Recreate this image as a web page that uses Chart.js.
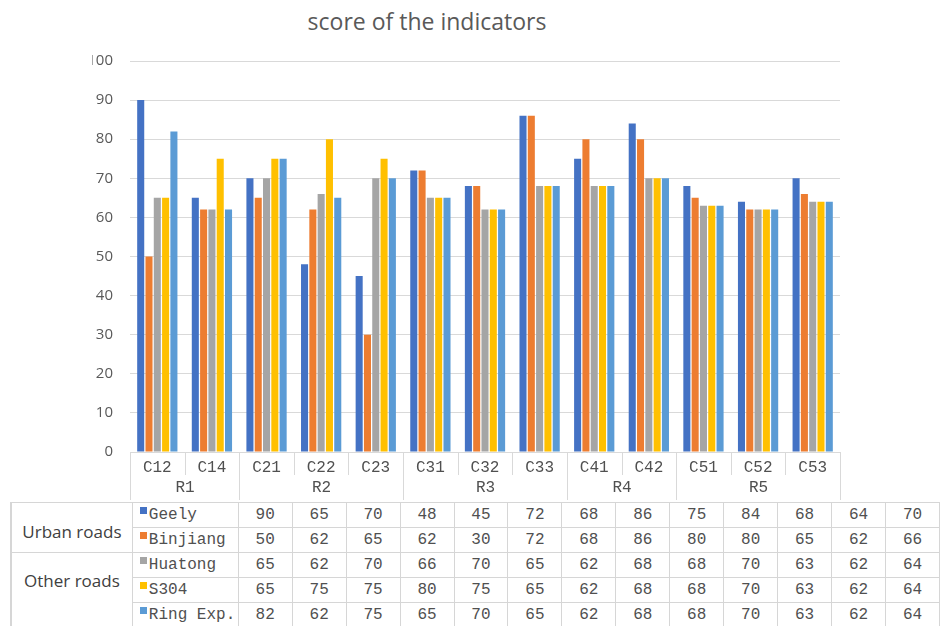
<!DOCTYPE html>
<html>
<head>
<meta charset="utf-8">
<script src="https://cdn.jsdelivr.net/npm/chart.js@4/dist/chart.umd.min.js"></script>
<style>
  html, body { margin: 0; padding: 0; background: #fff; }
  body { width: 940px; height: 626px; position: relative; overflow: hidden; }
  #title {
    position: absolute; left: 177px; top: 6px; width: 500px; text-align: center;
    font-family: "Open Sans", sans-serif; font-size: 23px; line-height: 30px; color: #595959;
  }
  #chart { position: absolute; left: 92px; top: 0; }
  #dataTable {
    position: absolute; left: 10px; top: 502px;
    border-collapse: collapse; table-layout: fixed;
    font-family: "Liberation Mono", monospace; font-size: 16px; color: #505050;
  }
  #dataTable td { border: 1px solid #d6d6d6; padding: 0; height: 24px; white-space: nowrap; overflow: hidden; }
  #dataTable td.val { text-align: center; }
  #dataTable td.road {
    font-family: "Open Sans", sans-serif; font-size: 17px; color: #404040;
    text-align: center; border-left: 2px solid #d6d6d6;
  }
  #dataTable td.name { padding-left: 7px; }
  .swatch { display: inline-block; width: 7px; height: 7px; margin-right: 2px; vertical-align: 5px; }
</style>
</head>
<body>
<div id="title">score of the indicators</div>
<canvas id="chart" width="848" height="501"></canvas>
<table id="dataTable"></table>
<script>
// Indicator codes along the x axis, and the road sections they belong to
const categories = ['C12', 'C14', 'C21', 'C22', 'C23', 'C31', 'C32', 'C33', 'C41', 'C42', 'C51', 'C52', 'C53'];
const groups = ['R1', 'R2', 'R3', 'R4', 'R5'];
const groupSizes = [2, 3, 3, 2, 3];

// Scores per road
const geely    = [90, 65, 70, 48, 45, 72, 68, 86, 75, 84, 68, 64, 70];
const binjiang = [50, 62, 65, 62, 30, 72, 68, 86, 80, 80, 65, 62, 66];
const huatong  = [65, 62, 70, 66, 70, 65, 62, 68, 68, 70, 63, 62, 64];
const s304     = [65, 75, 75, 80, 75, 65, 62, 68, 68, 70, 63, 62, 64];
const ringExp  = [82, 62, 75, 65, 70, 65, 62, 68, 68, 70, 63, 62, 64];

const seriesNames = ['Geely', 'Binjiang', 'Huatong', 'S304', 'Ring Exp.'];
const seriesValues = [geely, binjiang, huatong, s304, ringExp];
const seriesColors = ['#4472C4', '#ED7D31', '#A5A5A5', '#FFC000', '#5B9BD5'];

// Road type labels and how many series rows each one spans in the table
const roadTypes = ['Urban roads', 'Other roads'];
const roadTypeRows = [2, 3];

// Value axis
const yMin = 0, yMax = 100, yStep = 10;

const gridColor = '#d9d9d9';
const textColor = '#505050';
const monoFont = '"Liberation Mono", monospace';

// Draws the boxed two-level category axis (indicator row + road section row)
const groupedAxis = {
  id: 'groupedAxis',
  afterDraw(chart) {
    const ctx = chart.ctx;
    const xs = chart.scales.x;
    const top = chart.chartArea.bottom;
    const bottom = chart.height - 1;
    const step = xs.getPixelForValue(1) - xs.getPixelForValue(0);
    const edge = i => Math.round(xs.getPixelForValue(i) - step / 2) + 0.5;

    const groupEdges = [0];
    groupSizes.forEach(n => groupEdges.push(groupEdges[groupEdges.length - 1] + n));

    ctx.save();
    ctx.strokeStyle = gridColor;
    ctx.lineWidth = 1;
    for (let i = 0; i <= categories.length; i++) {
      const full = groupEdges.includes(i);
      ctx.beginPath();
      ctx.moveTo(edge(i), top);
      ctx.lineTo(edge(i), full ? bottom : top + 23);
      ctx.stroke();
    }
    ctx.fillStyle = textColor;
    ctx.font = '16px ' + monoFont;
    ctx.textAlign = 'center';
    ctx.textBaseline = 'middle';
    groups.forEach((g, k) => {
      const cx = (edge(groupEdges[k]) + edge(groupEdges[k + 1])) / 2;
      ctx.fillText(g, cx, top + 36);
    });
    ctx.restore();
  }
};

new Chart(document.getElementById('chart'), {
  type: 'bar',
  data: {
    labels: categories,
    datasets: seriesNames.map((name, i) => ({
      label: name,
      data: seriesValues[i],
      backgroundColor: seriesColors[i],
      categoryPercentage: 0.76,
      barPercentage: 0.85
    }))
  },
  options: {
    responsive: false,
    animation: false,
    devicePixelRatio: 1,
    layout: { padding: { top: 61, right: 100, bottom: 0, left: 0 } },
    plugins: { legend: { display: false }, tooltip: { enabled: false }, title: { display: false } },
    scales: {
      x: {
        grid: { display: false },
        border: { display: true, color: gridColor },
        ticks: {
          color: textColor, font: { family: monoFont, size: 16 },
          padding: -2, maxRotation: 0, autoSkip: false
        },
        afterFit(scale) { scale.height = 49; }
      },
      y: {
        min: yMin, max: yMax,
        grid: { color: gridColor, drawTicks: false },
        border: { display: false },
        ticks: {
          stepSize: yStep, color: '#595959', padding: 17,
          font: { family: '"Open Sans", sans-serif', size: 15 }
        },
        afterFit(scale) { scale.width = 38; }
      }
    }
  },
  plugins: [groupedAxis]
});

// Data table below the chart
(function buildTable() {
  const table = document.getElementById('dataTable');
  const colgroup = document.createElement('colgroup');
  [122, 106].concat(categories.map(() => 55)).forEach(w => {
    const col = document.createElement('col');
    col.style.width = w + 'px';
    colgroup.appendChild(col);
  });
  table.appendChild(colgroup);

  let row = 0;
  roadTypes.forEach((road, r) => {
    for (let k = 0; k < roadTypeRows[r]; k++, row++) {
      const tr = document.createElement('tr');
      if (k === 0) {
        const td = document.createElement('td');
        td.className = 'road';
        td.rowSpan = roadTypeRows[r];
        td.textContent = road;
        td.style.paddingTop = r === 0 ? '8px' : '0';
        td.style.paddingBottom = r === 0 ? '0' : '20px';
        tr.appendChild(td);
      }
      const nameTd = document.createElement('td');
      nameTd.className = 'name';
      const sw = document.createElement('span');
      sw.className = 'swatch';
      sw.style.background = seriesColors[row];
      nameTd.appendChild(sw);
      nameTd.appendChild(document.createTextNode(seriesNames[row]));
      tr.appendChild(nameTd);
      seriesValues[row].forEach(v => {
        const td = document.createElement('td');
        td.className = 'val';
        td.textContent = v;
        tr.appendChild(td);
      });
      table.appendChild(tr);
    }
  });
})();
</script>
</body>
</html>
